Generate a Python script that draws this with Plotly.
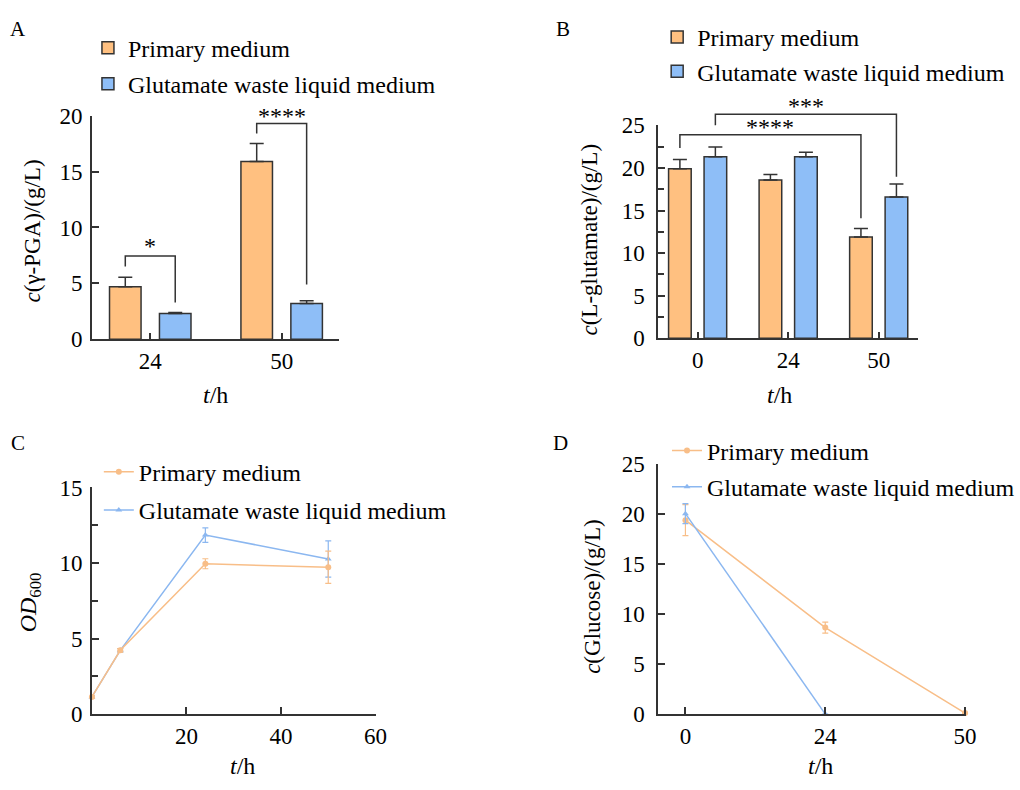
import plotly.graph_objects as go

FONT = "Liberation Serif, Times New Roman, serif"
ORANGE_FILL = "#FFC080"
BLUE_FILL = "#8EBEF7"
ORANGE_LINE = "#F8BE88"
BLUE_LINE = "#8BB7F0"
AX = "#333333"
W, H = 1020, 790

series_names = ["Primary medium", "Glutamate waste liquid medium"]

# ---- Panel A: c(γ-PGA) ----
a_times = ["24", "50"]
a_primary = [4.7, 15.9]
a_primary_err = [0.85, 1.6]
a_waste = [2.3, 3.2]
a_waste_err = [0.1, 0.25]
# (left cat, left series, right cat, right series, y left leg, y top, y right leg, label, label y)
a_brackets = [
    (0, 0, 0, 1, 6.5, 7.45, 3.3, "*", 8.3),
    (1, 0, 1, 1, 18.4, 19.3, 4.9, "****", 20.0),
]

# ---- Panel B: c(L-glutamate) ----
b_times = ["0", "24", "50"]
b_primary = [19.9, 18.57, 11.9]
b_primary_err = [1.1, 0.65, 1.0]
b_waste = [21.3, 21.3, 16.6]
b_waste_err = [1.15, 0.55, 1.5]
b_brackets = [
    (0, 0, 2, 0, 22.35, 23.9, 14.1, "****", 24.8),
    (0, 1, 2, 1, 25.0, 26.3, 18.95, "***", 27.3),
]

# ---- Panel C: OD600 ----
c_time = [0, 6, 24, 50]
c_primary = [1.13, 4.22, 9.95, 9.72]
c_primary_err = [0.08, 0.12, 0.33, 1.07]
c_waste = [1.13, 4.22, 11.85, 10.27]
c_waste_err = [0.08, 0.12, 0.48, 1.2]

# ---- Panel D: c(Glucose) ----
d_times = ["0", "24", "50"]
d_primary = [19.4, 8.65, 0.1]
d_primary_err = [1.55, 0.55, 0.05]
d_waste = [20.05, 0.0]
d_waste_err = [1.0, 0.0]

# ---- layout geometry (pixels) ----
def px_dom(x0, x1, y0, y1):
    return [x0 / W, x1 / W], [1 - y1 / H, 1 - y0 / H]

A_x, A_y = px_dom(93, 343, 107, 338)
B_x, B_y = px_dom(666, 929, 117, 337)
C_x, C_y = px_dom(93, 380, 491, 725)
D_x, D_y = px_dom(666, 978, 467, 725)

fig = go.Figure()


def add_bars(xa, ya, cats, vals_list, errs_list, d, w, legend):
    fills = [ORANGE_FILL, BLUE_FILL]
    idx = list(range(len(cats)))
    for s, (vals, errs) in enumerate(zip(vals_list, errs_list)):
        fig.add_trace(go.Bar(
            x=idx, y=vals, name=series_names[s],
            offset=(-d if s == 0 else d) - w / 2, width=w,
            marker=dict(color=fills[s], line=dict(color=AX, width=1.5)),
            error_y=dict(type="data", array=errs, arrayminus=[0] * len(errs),
                         symmetric=False, color=AX, thickness=1.5, width=7),
            xaxis=xa, yaxis=ya, legend=legend, showlegend=True,
            legendgroup=legend + str(s), legendrank=s + 1,
        ))


def add_brackets(xa, ya, brackets, d, ymax):
    for (lc, ls, rc, rs, yl, yt, yr, label, ly) in brackets:
        xl = lc + (-d if ls == 0 else d)
        xr = rc + (-d if rs == 0 else d)
        fig.add_shape(type="path",
                      path=f"M {xl},{yl/ymax} L {xl},{yt/ymax} L {xr},{yt/ymax} L {xr},{yr/ymax}",
                      xref=xa, yref=ya + " domain",
                      line=dict(color=AX, width=1.5))
        fig.add_annotation(x=(xl + xr) / 2, y=ly / ymax, xref=xa, yref=ya + " domain",
                           text=label, showarrow=False,
                           font=dict(family=FONT, size=24, color="black"),
                           yanchor="middle")


add_bars("x", "y", a_times, [a_primary, a_waste], [a_primary_err, a_waste_err], 0.19, 0.24, "legend")
add_brackets("x", "y", a_brackets, 0.19, 20)
add_bars("x2", "y2", b_times, [b_primary, b_waste], [b_primary_err, b_waste_err], 0.196, 0.25, "legend2")
add_brackets("x2", "y2", b_brackets, 0.196, 25)


def add_line(xa, ya, x, y, err, color, symbol, name, legend, rank):
    fig.add_trace(go.Scatter(
        x=x, y=y, name=name, mode="lines+markers",
        line=dict(color=color, width=1.5),
        marker=dict(color=color, symbol=symbol, size=6),
        error_y=dict(type="data", array=err, color=color, thickness=1.2, width=3),
        cliponaxis=False, xaxis=xa, yaxis=ya, legend=legend,
        legendgroup=legend + str(rank), legendrank=rank,
    ))


# waste-liquid series drawn first so the primary series lies on top where they coincide
add_line("x3", "y3", c_time, c_waste, c_waste_err, BLUE_LINE, "triangle-up", series_names[1], "legend3", 2)
add_line("x3", "y3", c_time, c_primary, c_primary_err, ORANGE_LINE, "circle", series_names[0], "legend3", 1)
add_line("x4", "y4", list(range(len(d_primary))), d_primary, d_primary_err, ORANGE_LINE, "circle", series_names[0], "legend4", 1)
add_line("x4", "y4", list(range(len(d_waste))), d_waste, d_waste_err, BLUE_LINE, "triangle-up", series_names[1], "legend4", 2)

tickfont = dict(family=FONT, size=23, color="black")


def axis(domain, standoff, **kw):
    base = dict(domain=domain, showline=True, linecolor=AX, linewidth=1.5,
                ticks="inside", ticklen=7, tickwidth=1.5, tickcolor=AX,
                showgrid=False, zeroline=False, tickfont=tickfont,
                ticklabelstandoff=standoff, fixedrange=True)
    base.update(kw)
    return base


minor = dict(ticks="inside", dtick=2.5, ticklen=6, tickwidth=1.5, tickcolor=AX)

fig.update_layout(
    width=W, height=H, autosize=False,
    margin=dict(l=0, r=0, t=0, b=0),
    paper_bgcolor="white", plot_bgcolor="white",
    barmode="overlay",
    font=dict(family=FONT, color="black"),
    xaxis=axis(A_x, 0, anchor="y", range=[-0.444, 1.436], tickvals=[0, 1], ticktext=a_times),
    yaxis=axis(A_y, 3, anchor="x", range=[0, 20], tickvals=[0, 5, 10, 15, 20]),
    xaxis2=axis(B_x, 0, anchor="y2", range=[-0.436, 2.435], tickvals=[0, 1, 2], ticktext=b_times),
    yaxis2=axis(B_y, 7, anchor="x2", range=[0, 25], tickvals=[0, 5, 10, 15, 20, 25], minor=minor),
    xaxis3=axis(C_x, 1, anchor="y3", range=[0, 60], tickvals=[20, 40, 60]),
    yaxis3=axis(C_y, 3, anchor="x3", range=[0, 15], tickvals=[0, 5, 10, 15], minor=minor),
    xaxis4=axis(D_x, 1, anchor="y4", range=[-0.195, 2.01], tickvals=[0, 1, 2], ticktext=d_times),
    yaxis4=axis(D_y, 7, anchor="x4", range=[0, 25], tickvals=[0, 5, 10, 15, 20, 25]),
)

leg_common = dict(font=dict(family=FONT, size=24, color="black"), bgcolor="rgba(0,0,0,0)",
                  xanchor="left", yanchor="top", traceorder="grouped", itemwidth=30,
                  itemclick=False, itemdoubleclick=False)
fig.update_layout(
    legend=dict(x=89 / W, y=1 - 14 / H, tracegroupgap=2, **leg_common),
    legend2=dict(x=665 / W, y=1 - 3 / H, tracegroupgap=0, **leg_common),
    legend3=dict(x=100 / W, y=1 - 452 / H, tracegroupgap=4, **leg_common),
    legend4=dict(x=675 / W, y=1 - 430 / H, tracegroupgap=2, **leg_common),
)


def text(x, y, s, angle=0, size=23):
    fig.add_annotation(x=x / W, y=1 - y / H, xref="paper", yref="paper", text=s,
                       showarrow=False, textangle=angle,
                       font=dict(family=FONT, size=size, color="black"),
                       xanchor="center", yanchor="middle")


text(33, 226, "<i>c</i>(γ-PGA)/(g/L)", -90)
text(218, 396, "<i>t</i>/h", size=24)
text(597, 235, "<i>c</i>(L-glutamate)/(g/L)", -90)
text(789, 396, "<i>t</i>/h", size=24)
text(30, 610, "<i>OD</i><sub>600</sub>", -90, size=24)
text(245, 779, "<i>t</i>/h", size=24)
text(600, 603, "<i>c</i>(Glucose)/(g/L)", -90)
text(830, 779, "<i>t</i>/h", size=24)
text(18, 18, "A", size=21)
text(570, 18, "B", size=21)
text(18, 445, "C", size=21)
text(567, 445, "D", size=21)

fig.write_html("out.html", config={"displayModeBar": False},
               post_script="document.body.style.margin='0px';document.body.style.overflow='hidden';")
